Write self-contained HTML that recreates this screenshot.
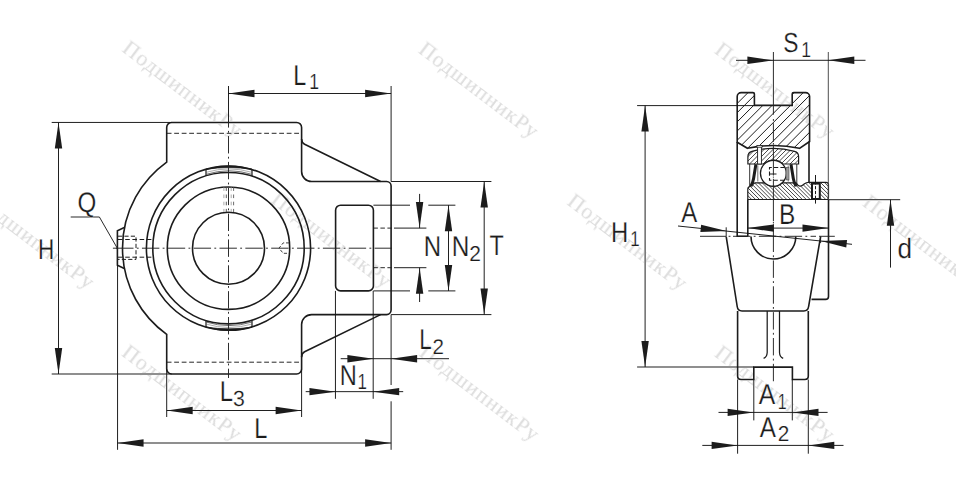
<!DOCTYPE html>
<html lang="ru"><head><meta charset="utf-8"><title>Bearing unit drawing</title>
<style>
html,body{margin:0;padding:0;background:#fff;}
body{width:956px;height:492px;overflow:hidden;font-family:"Liberation Sans",sans-serif;}
svg{display:block;}
svg text{font-family:"Liberation Sans",sans-serif;text-rendering:geometricPrecision;}
</style></head><body>
<svg width="956" height="492" viewBox="0 0 956 492">
<rect width="956" height="492" fill="#fff"/>
<path d="M301.6,141.5 V127.45 A5,5 0 0 0 296.6,122.45 H171.7 A5,5 0 0 0 166.7,127.45 V162.08 A106.0,106.0 0 0 0 166.7,334.32 V369.0 A5,5 0 0 0 171.7,374.0 H296.6 A5,5 0 0 0 301.6,369.0 V354.6 M301.6,141.5 V171.5 A10,10 0 0 0 311.6,181.5 H386.6 A4.5,4.5 0 0 1 391.1,186.0 V310.1 A4.5,4.5 0 0 1 386.6,314.6 H311.6 A10,10 0 0 0 301.6,324.6 V354.6" fill="none" stroke="#1c1c1c" stroke-width="1.6"/>
<path d="M301.6,139.0 Q301.8,142.9 304.6,144.3 L380.6,181.5" fill="none" stroke="#1c1c1c" stroke-width="1.6"/>
<path d="M301.6,357.1 Q301.8,353.20000000000005 304.6,351.8 L380.6,314.6" fill="none" stroke="#1c1c1c" stroke-width="1.6"/>
<circle cx="228.5" cy="248.2" r="82.1" fill="none" stroke="#1c1c1c" stroke-width="1.6"/>
<circle cx="228.5" cy="248.2" r="75.7" fill="none" stroke="#1c1c1c" stroke-width="1.6"/>
<circle cx="228.5" cy="248.2" r="61.2" fill="none" stroke="#1c1c1c" stroke-width="1.6"/>
<circle cx="228.5" cy="248.2" r="36.0" fill="none" stroke="#1c1c1c" stroke-width="1.6"/>
<path d="M206.0,169.24 A82.1,82.1 0 0 1 252.0,169.24 A160,160 0 0 0 206.0,169.24 Z" fill="#1c1c1c" stroke="#1c1c1c" stroke-width="0.8"/>
<path d="M206.4,172.26 A79.2,79.2 0 0 1 251.6,172.26" fill="none" stroke="#999" stroke-width="0.8"/>
<path d="M206.4,174.25 A77.3,77.3 0 0 1 251.6,174.25" fill="none" stroke="#333" stroke-width="0.7"/>
<line x1="206.0" y1="169.24" x2="206.0" y2="175.92" stroke="#1c1c1c" stroke-width="1.2"/>
<line x1="252.0" y1="169.24" x2="252.0" y2="175.92" stroke="#1c1c1c" stroke-width="1.2"/>
<path d="M206.0,327.16 A82.1,82.1 0 0 0 252.0,327.16 A160,160 0 0 1 206.0,327.16 Z" fill="#1c1c1c" stroke="#1c1c1c" stroke-width="0.8"/>
<path d="M206.4,324.14 A79.2,79.2 0 0 0 251.6,324.14" fill="none" stroke="#999" stroke-width="0.8"/>
<path d="M206.4,322.15 A77.3,77.3 0 0 0 251.6,322.15" fill="none" stroke="#333" stroke-width="0.7"/>
<line x1="206.0" y1="327.16" x2="206.0" y2="320.48" stroke="#1c1c1c" stroke-width="1.2"/>
<line x1="252.0" y1="327.16" x2="252.0" y2="320.48" stroke="#1c1c1c" stroke-width="1.2"/>
<path d="M124.8,227.2 L117.4,230.7 V265.3 L124.8,268.8" fill="none" stroke="#1c1c1c" stroke-width="1.6"/>
<rect x="335.6" y="205.2" width="37.8" height="85.7" rx="5" ry="5" fill="none" stroke="#1c1c1c" stroke-width="1.6"/>
<line x1="166.7" y1="133.3" x2="301.6" y2="133.3" stroke="#1c1c1c" stroke-width="0.95" stroke-dasharray="4.8,2.7"/>
<line x1="166.7" y1="362.2" x2="301.6" y2="362.2" stroke="#1c1c1c" stroke-width="0.95" stroke-dasharray="4.8,2.7"/>
<path d="M118,236.2 H136 V259.4 H118" fill="none" stroke="#1c1c1c" stroke-width="1.0" stroke-dasharray="4.2,2.2"/>
<path d="M118,239.5 H153.4 M118,257.2 H153.4" fill="none" stroke="#1c1c1c" stroke-width="1.0" stroke-dasharray="4.6,2.6"/>
<line x1="223.9" y1="187.3" x2="223.9" y2="212" stroke="#a0a0a0" stroke-width="0.9" stroke-dasharray="3.6,3.6"/>
<line x1="226.3" y1="187.3" x2="226.3" y2="212" stroke="#4a4a4a" stroke-width="0.9" stroke-dasharray="3.6,3.6"/>
<line x1="231.2" y1="187.3" x2="231.2" y2="212" stroke="#a0a0a0" stroke-width="0.9" stroke-dasharray="3.6,3.6"/>
<line x1="233.6" y1="187.3" x2="233.6" y2="212" stroke="#5a5a5a" stroke-width="0.9" stroke-dasharray="3.6,3.6"/>
<path d="M289.2,242.9 H283.2 L279.0,248.2 L283.2,253.3 H289.2" fill="none" stroke="#2a2a2a" stroke-width="0.9" stroke-dasharray="3.2,1.8"/>
<line x1="228.5" y1="122" x2="228.5" y2="378" stroke="#222" stroke-width="0.95" stroke-dasharray="17.4,3.3,1.85,3.3" stroke-dashoffset="11.8"/>
<line x1="112.9" y1="248.2" x2="117" y2="248.2" stroke="#222" stroke-width="0.95"/>
<line x1="113.3" y1="248.2" x2="395.1" y2="248.2" stroke="#222" stroke-width="0.95" stroke-dasharray="17.4,3.3,1.85,3.3" stroke-dashoffset="23.05"/>
<line x1="51.7" y1="122.45" x2="171.7" y2="122.45" stroke="#141414" stroke-width="0.95"/>
<line x1="51.7" y1="374.0" x2="171.7" y2="374.0" stroke="#141414" stroke-width="0.95"/>
<line x1="58.5" y1="122.45" x2="58.5" y2="374.0" stroke="#141414" stroke-width="0.95"/>
<polygon points="58.50,122.45 62.20,148.45 54.80,148.45" fill="#1c1c1c"/>
<polygon points="58.50,374.00 54.80,348.00 62.20,348.00" fill="#1c1c1c"/>
<line x1="228.5" y1="86" x2="228.5" y2="122" stroke="#141414" stroke-width="0.95"/>
<line x1="391.1" y1="86" x2="391.1" y2="181.5" stroke="#141414" stroke-width="0.95"/>
<line x1="228.5" y1="93.5" x2="391.1" y2="93.5" stroke="#141414" stroke-width="0.95"/>
<polygon points="228.50,93.50 254.50,89.80 254.50,97.20" fill="#1c1c1c"/>
<polygon points="391.10,93.50 365.10,97.20 365.10,89.80" fill="#1c1c1c"/>
<line x1="166.7" y1="369.0" x2="166.7" y2="417" stroke="#141414" stroke-width="0.95"/>
<line x1="301.6" y1="369.0" x2="301.6" y2="417" stroke="#141414" stroke-width="0.95"/>
<line x1="166.7" y1="410.5" x2="301.6" y2="410.5" stroke="#141414" stroke-width="0.95"/>
<polygon points="166.70,410.50 192.70,406.80 192.70,414.20" fill="#1c1c1c"/>
<polygon points="301.60,410.50 275.60,414.20 275.60,406.80" fill="#1c1c1c"/>
<line x1="117.55" y1="265.3" x2="117.55" y2="449.8" stroke="#141414" stroke-width="0.95"/>
<line x1="391.1" y1="314.6" x2="391.1" y2="385" stroke="#141414" stroke-width="0.95"/>
<line x1="391.1" y1="401.3" x2="391.1" y2="449.8" stroke="#141414" stroke-width="0.95"/>
<line x1="117.55" y1="443" x2="391.1" y2="443" stroke="#141414" stroke-width="0.95"/>
<polygon points="117.55,443.00 143.55,439.30 143.55,446.70" fill="#1c1c1c"/>
<polygon points="391.10,443.00 365.10,446.70 365.10,439.30" fill="#1c1c1c"/>
<line x1="335.45" y1="290.9" x2="335.45" y2="398.8" stroke="#141414" stroke-width="0.95"/>
<line x1="373.2" y1="290.9" x2="373.2" y2="398.8" stroke="#141414" stroke-width="0.95"/>
<line x1="305.7" y1="391.65" x2="403.2" y2="391.65" stroke="#141414" stroke-width="0.95"/>
<polygon points="335.45,391.65 309.45,395.35 309.45,387.95" fill="#1c1c1c"/>
<polygon points="373.20,391.65 399.20,387.95 399.20,395.35" fill="#1c1c1c"/>
<line x1="340.7" y1="358.7" x2="449" y2="358.7" stroke="#141414" stroke-width="0.95"/>
<polygon points="373.40,358.70 347.40,362.40 347.40,355.00" fill="#1c1c1c"/>
<polygon points="391.10,358.70 417.10,355.00 417.10,362.40" fill="#1c1c1c"/>
<line x1="373.4" y1="228.1" x2="394" y2="228.1" stroke="#1e1e1e" stroke-width="0.95" stroke-dasharray="4.5,2.5"/>
<line x1="394" y1="228.1" x2="426.4" y2="228.1" stroke="#141414" stroke-width="0.95"/>
<line x1="373.4" y1="267.7" x2="394" y2="267.7" stroke="#1e1e1e" stroke-width="0.95" stroke-dasharray="4.5,2.5"/>
<line x1="394" y1="267.7" x2="426.4" y2="267.7" stroke="#141414" stroke-width="0.95"/>
<line x1="419.6" y1="193.9" x2="419.6" y2="228.1" stroke="#141414" stroke-width="0.95"/>
<line x1="419.6" y1="267.7" x2="419.6" y2="302" stroke="#141414" stroke-width="0.95"/>
<polygon points="419.60,228.10 415.90,202.10 423.30,202.10" fill="#1c1c1c"/>
<polygon points="419.60,267.70 423.30,293.70 415.90,293.70" fill="#1c1c1c"/>
<line x1="373.4" y1="205.2" x2="410.0" y2="205.2" stroke="#141414" stroke-width="0.95"/>
<line x1="428.3" y1="205.2" x2="455.4" y2="205.2" stroke="#141414" stroke-width="0.95"/>
<line x1="373.4" y1="290.9" x2="410.0" y2="290.9" stroke="#141414" stroke-width="0.95"/>
<line x1="428.3" y1="290.9" x2="455.4" y2="290.9" stroke="#141414" stroke-width="0.95"/>
<line x1="448.5" y1="205.2" x2="448.5" y2="290.9" stroke="#141414" stroke-width="0.95"/>
<polygon points="448.50,205.20 452.20,231.20 444.80,231.20" fill="#1c1c1c"/>
<polygon points="448.50,290.90 444.80,264.90 452.20,264.90" fill="#1c1c1c"/>
<line x1="391.1" y1="181.5" x2="491.4" y2="181.5" stroke="#141414" stroke-width="0.95"/>
<line x1="391.1" y1="314.6" x2="491.4" y2="314.6" stroke="#141414" stroke-width="0.95"/>
<line x1="484.2" y1="181.5" x2="484.2" y2="314.6" stroke="#141414" stroke-width="0.95"/>
<polygon points="484.20,181.50 487.90,207.50 480.50,207.50" fill="#1c1c1c"/>
<polygon points="484.20,314.60 480.50,288.60 487.90,288.60" fill="#1c1c1c"/>
<path d="M70.7,217 H99.4 L117,247.7" fill="none" stroke="#1e1e1e" stroke-width="0.95"/>
<text transform="translate(37.95,259.00) scale(0.8676,1.1069)" font-size="26" fill="#1c1c1c" stroke="#fff" stroke-width="0.203">H</text>
<text transform="translate(77.56,211.92) scale(0.9297,1.0865)" font-size="26" fill="#1c1c1c" stroke="#fff" stroke-width="0.198">Q</text>
<text transform="translate(293.18,85.00) scale(0.8985,1.1069)" font-size="26" fill="#1c1c1c" stroke="#fff" stroke-width="0.199">L</text>
<text transform="translate(309.26,89.00) scale(0.6780,0.8442)" font-size="26" fill="#1c1c1c" stroke="#fff" stroke-width="0.263">1</text>
<text transform="translate(219.75,401.00) scale(0.9159,1.1069)" font-size="26" fill="#1c1c1c" stroke="#fff" stroke-width="0.198">L</text>
<text transform="translate(232.99,405.59) scale(0.8193,0.8420)" font-size="26" fill="#1c1c1c" stroke="#fff" stroke-width="0.241">3</text>
<text transform="translate(254.37,438.00) scale(0.9072,1.1013)" font-size="26" fill="#1c1c1c" stroke="#fff" stroke-width="0.199">L</text>
<text transform="translate(339.76,385.00) scale(0.9089,1.1013)" font-size="26" fill="#1c1c1c" stroke="#fff" stroke-width="0.199">N</text>
<text transform="translate(357.51,389.00) scale(0.6512,0.8442)" font-size="26" fill="#1c1c1c" stroke="#fff" stroke-width="0.267">1</text>
<text transform="translate(419.36,349.00) scale(0.8636,1.1013)" font-size="26" fill="#1c1c1c" stroke="#fff" stroke-width="0.204">L</text>
<text transform="translate(432.46,354.00) scale(0.7936,0.8152)" font-size="26" fill="#1c1c1c" stroke="#fff" stroke-width="0.249">2</text>
<text transform="translate(423.63,256.00) scale(0.9226,1.1013)" font-size="26" fill="#1c1c1c" stroke="#fff" stroke-width="0.198">N</text>
<text transform="translate(451.70,256.00) scale(0.9364,1.1013)" font-size="26" fill="#1c1c1c" stroke="#fff" stroke-width="0.196">N</text>
<text transform="translate(469.14,261.00) scale(0.8105,0.8263)" font-size="26" fill="#1c1c1c" stroke="#fff" stroke-width="0.244">2</text>
<text transform="translate(489.58,255.00) scale(0.8979,1.0901)" font-size="26" fill="#1c1c1c" stroke="#fff" stroke-width="0.201">T</text>
<clipPath id="c1"><path d="M737.2,96.6 A4,4 0 0 1 741.2,92.6 H752.9 Q754.4,92.6 754.4,94.1 V105.4 H792.2 V94.1 Q792.2,92.6 793.7,92.6 H805.6 A4,4 0 0 1 809.6,96.6 V141.5 L799.5,148.3 Q773.5,142.6 747.5,148.3 L737.2,142.2 Z"/></clipPath>
<path d="M737.2,96.6 A4,4 0 0 1 741.2,92.6 H752.9 Q754.4,92.6 754.4,94.1 V105.4 H792.2 V94.1 Q792.2,92.6 793.7,92.6 H805.6 A4,4 0 0 1 809.6,96.6 V141.5 L799.5,148.3 Q773.5,142.6 747.5,148.3 L737.2,142.2 Z" fill="#fff" stroke="none"/>
<path clip-path="url(#c1)" d="M741.45,90L679.45,152M750.65,90L688.65,152M759.85,90L697.85,152M769.05,90L707.05,152M778.25,90L716.25,152M787.45,90L725.45,152M796.65,90L734.65,152M805.85,90L743.85,152M815.05,90L753.05,152M824.25,90L762.25,152M833.45,90L771.45,152M842.65,90L780.65,152M851.85,90L789.85,152M861.05,90L799.05,152M870.25,90L808.25,152" stroke="#1c1c1c" stroke-width="1.0" fill="none"/>
<path d="M737.2,96.6 A4,4 0 0 1 741.2,92.6 H752.9 Q754.4,92.6 754.4,94.1 V105.4 H792.2 V94.1 Q792.2,92.6 793.7,92.6 H805.6 A4,4 0 0 1 809.6,96.6 V141.5 L799.5,148.3 Q773.5,142.6 747.5,148.3 L737.2,142.2 Z" fill="none" stroke="#1c1c1c" stroke-width="1.6"/>
<path d="M737.2,142 V236.3 H747.8" fill="none" stroke="#1c1c1c" stroke-width="1.6"/>
<line x1="809.0" y1="141.5" x2="809.0" y2="183" stroke="#1c1c1c" stroke-width="1.6"/>
<clipPath id="c2"><path d="M747.9,164.0 V156.5 Q747.9,152.4 752.0,151.3 Q773.3,145.3 794.6,151.3 Q798.6,152.4 798.6,156.5 V164.0 H782.7 A12.95,12.95 0 0 0 764.1,164.0 Z"/></clipPath>
<path d="M747.9,164.0 V156.5 Q747.9,152.4 752.0,151.3 Q773.3,145.3 794.6,151.3 Q798.6,152.4 798.6,156.5 V164.0 H782.7 A12.95,12.95 0 0 0 764.1,164.0 Z" fill="#fff" stroke="none"/>
<path clip-path="url(#c2)" d="M748.00,143L725.00,166M752.50,143L729.50,166M757.00,143L734.00,166M761.50,143L738.50,166M766.00,143L743.00,166M770.50,143L747.50,166M775.00,143L752.00,166M779.50,143L756.50,166M784.00,143L761.00,166M788.50,143L765.50,166M793.00,143L770.00,166M797.50,143L774.50,166M802.00,143L779.00,166M806.50,143L783.50,166M811.00,143L788.00,166M815.50,143L792.50,166M820.00,143L797.00,166" stroke="#1c1c1c" stroke-width="0.8" fill="none"/>
<path d="M747.9,164.0 V156.5 Q747.9,152.4 752.0,151.3 Q773.3,145.3 794.6,151.3 Q798.6,152.4 798.6,156.5 V164.0 H782.7 A12.95,12.95 0 0 0 764.1,164.0 Z" fill="none" stroke="#1c1c1c" stroke-width="1.2"/>
<rect x="757.6" y="146.4" width="3.8" height="17.6" fill="#fff" stroke="#1c1c1c" stroke-width="0.9"/>
<rect x="756.9" y="145.4" width="5.2" height="1.8" fill="#fff" stroke="#1c1c1c" stroke-width="0.8"/>
<clipPath id="c3"><path d="M747.8,199.5 V188.8 Q747.8,187.2 749.5,186.6 L755.0,182.8 H764.8 A12.95,12.95 0 0 0 782.0,182.8 H796.0 Q798.2,185.8 799.8,186.2 Q801.6,186.4 804.5,183.8 Q806.3,182.3 808.6,182.3 H826.0 Q828.5,182.3 828.5,184.8 V197.4 Q828.5,199.5 826.5,199.5 Z"/></clipPath>
<path d="M747.8,199.5 V188.8 Q747.8,187.2 749.5,186.6 L755.0,182.8 H764.8 A12.95,12.95 0 0 0 782.0,182.8 H796.0 Q798.2,185.8 799.8,186.2 Q801.6,186.4 804.5,183.8 Q806.3,182.3 808.6,182.3 H826.0 Q828.5,182.3 828.5,184.8 V197.4 Q828.5,199.5 826.5,199.5 Z" fill="#fff" stroke="none"/>
<path clip-path="url(#c3)" d="M729.30,181L749.30,201M733.20,181L753.20,201M737.10,181L757.10,201M741.00,181L761.00,201M744.90,181L764.90,201M748.80,181L768.80,201M752.70,181L772.70,201M756.60,181L776.60,201M760.50,181L780.50,201M764.40,181L784.40,201M768.30,181L788.30,201M772.20,181L792.20,201M776.10,181L796.10,201M780.00,181L800.00,201M783.90,181L803.90,201M787.80,181L807.80,201M791.70,181L811.70,201M795.60,181L815.60,201M799.50,181L819.50,201M803.40,181L823.40,201M807.30,181L827.30,201M811.20,181L831.20,201M815.10,181L835.10,201M819.00,181L839.00,201M822.90,181L842.90,201M826.80,181L846.80,201" stroke="#1c1c1c" stroke-width="0.8" fill="none"/>
<path d="M747.8,199.5 V188.8 Q747.8,187.2 749.5,186.6 L755.0,182.8 H764.8 A12.95,12.95 0 0 0 782.0,182.8 H796.0 Q798.2,185.8 799.8,186.2 Q801.6,186.4 804.5,183.8 Q806.3,182.3 808.6,182.3 H826.0 Q828.5,182.3 828.5,184.8 V197.4 Q828.5,199.5 826.5,199.5 Z" fill="none" stroke="#1c1c1c" stroke-width="1.2"/>
<rect x="812.0" y="183.6" width="7.8" height="15.4" fill="#fff" stroke="#1c1c1c" stroke-width="2.0"/>
<line x1="815.5" y1="175" x2="815.5" y2="203.6" stroke="#1c1c1c" stroke-width="1.0" stroke-dasharray="9.5,1.6,3.2,1.6,3.2,1.6,20"/>
<circle cx="773.4" cy="173.3" r="12.95" fill="#fff" stroke="#1c1c1c" stroke-width="1.3"/>
<line x1="749.7" y1="164.0" x2="749.7" y2="186.4" stroke="#1c1c1c" stroke-width="0.9"/>
<line x1="796.8" y1="164.0" x2="796.8" y2="186.4" stroke="#1c1c1c" stroke-width="0.9"/>
<line x1="757.8" y1="165.5" x2="757.8" y2="181.5" stroke="#333" stroke-width="0.7"/>
<line x1="788.2" y1="165.5" x2="788.2" y2="181.5" stroke="#333" stroke-width="0.7"/>
<path d="M755.9,164.3 L753.6,178.5 Q752.9,182.5 750.9,186.2" fill="none" stroke="#1c1c1c" stroke-width="3.0"/>
<path d="M791.0,164.3 L793.3,178.5 Q794.0,182.5 796.0,186.2" fill="none" stroke="#1c1c1c" stroke-width="3.0"/>
<rect x="786.0" y="167.3" width="3.0" height="12.6" fill="#9c9c9c" stroke="#4a4a4a" stroke-width="0.6"/>
<path d="M784.6,167.5 H769.5 V180.3 H784.6" fill="none" stroke="#1c1c1c" stroke-width="1.1" stroke-dasharray="4.2,2.2"/>
<line x1="769.5" y1="174.0" x2="776.5" y2="174.0" stroke="#1c1c1c" stroke-width="1.0"/>
<line x1="773.4" y1="52" x2="773.4" y2="114.7" stroke="#222" stroke-width="0.95"/>
<line x1="773.4" y1="119" x2="773.4" y2="120.9" stroke="#222" stroke-width="0.95"/>
<line x1="773.4" y1="123.2" x2="773.4" y2="141.8" stroke="#222" stroke-width="0.95"/>
<line x1="773.4" y1="143.0" x2="773.4" y2="144.6" stroke="#222" stroke-width="0.95"/>
<line x1="773.4" y1="146.0" x2="773.4" y2="175.5" stroke="#222" stroke-width="0.95"/>
<line x1="773.4" y1="176.6" x2="773.4" y2="177.7" stroke="#222" stroke-width="0.95"/>
<line x1="773.4" y1="178.8" x2="773.4" y2="221.2" stroke="#222" stroke-width="0.95"/>
<line x1="773.4" y1="222.0" x2="773.4" y2="223.4" stroke="#222" stroke-width="0.95"/>
<line x1="773.4" y1="224.2" x2="773.4" y2="252.0" stroke="#222" stroke-width="0.95"/>
<line x1="773.4" y1="255.3" x2="773.4" y2="384.5" stroke="#222" stroke-width="0.95" stroke-dasharray="1.85,3.3,17.4,3.3"/>
<line x1="747.8" y1="199.5" x2="747.8" y2="236.3" stroke="#1c1c1c" stroke-width="1.6"/>
<path d="M828.5,199.5 V296.4 Q828.5,299.4 825.5,299.4 H811.5" fill="none" stroke="#1c1c1c" stroke-width="1.6"/>
<line x1="828.3" y1="52" x2="828.3" y2="199.6" stroke="#444" stroke-width="0.95"/>
<path d="M726.2,236.6 L737.2,306.5 Q737.8,311 742,311 H803.8 Q808.0,311 808.6,306.5 L820.6,236.6" fill="none" stroke="#1c1c1c" stroke-width="1.6"/>
<path d="M751.0,236.6 A22.4,22.4 0 0 0 795.8,236.6" fill="none" stroke="#1c1c1c" stroke-width="1.6"/>
<path d="M737.6,311 V376.0 Q737.6,379.5 741.1,379.5 H753.8 V367.1 H792.4 V379.5 H804.8 Q808.3,379.5 808.3,376.0 V311" fill="none" stroke="#1c1c1c" stroke-width="1.6"/>
<path d="M767.2,311 V352.5 Q767.0,357 763.6,358.4" fill="none" stroke="#1c1c1c" stroke-width="1.25"/>
<path d="M779.5,311 V352.5 Q779.7,357 783.2,358.4" fill="none" stroke="#1c1c1c" stroke-width="1.25"/>
<line x1="700" y1="236.3" x2="733" y2="236.3" stroke="#222" stroke-width="0.95" stroke-dasharray="26,2.6,1.85,2.6"/>
<line x1="733" y1="236.3" x2="816" y2="236.3" stroke="#222" stroke-width="0.95" stroke-dasharray="17.4,3.3,1.85,3.3"/>
<line x1="819" y1="236.3" x2="834.8" y2="236.3" stroke="#222" stroke-width="0.95"/>
<line x1="736" y1="60.3" x2="865.5" y2="60.3" stroke="#141414" stroke-width="0.95"/>
<polygon points="773.40,60.30 747.40,64.00 747.40,56.60" fill="#1c1c1c"/>
<polygon points="828.30,60.30 854.30,56.60 854.30,64.00" fill="#1c1c1c"/>
<line x1="637.1" y1="105.6" x2="754.4" y2="105.6" stroke="#141414" stroke-width="0.95"/>
<line x1="637.1" y1="367.0" x2="753.8" y2="367.0" stroke="#141414" stroke-width="0.95"/>
<line x1="645.1" y1="105.6" x2="645.1" y2="367.0" stroke="#141414" stroke-width="0.95"/>
<polygon points="645.10,105.60 648.80,131.60 641.40,131.60" fill="#1c1c1c"/>
<polygon points="645.10,367.00 641.40,341.00 648.80,341.00" fill="#1c1c1c"/>
<line x1="828.5" y1="199.7" x2="900.2" y2="199.7" stroke="#141414" stroke-width="0.95"/>
<line x1="890.5" y1="199.7" x2="890.5" y2="267.6" stroke="#141414" stroke-width="0.95"/>
<polygon points="890.50,199.70 894.20,225.70 886.80,225.70" fill="#1c1c1c"/>
<line x1="747.8" y1="228.1" x2="828.5" y2="228.1" stroke="#141414" stroke-width="0.95"/>
<polygon points="747.80,228.10 773.80,224.40 773.80,231.80" fill="#1c1c1c"/>
<polygon points="828.50,228.10 802.50,231.80 802.50,224.40" fill="#1c1c1c"/>
<line x1="678.0" y1="226.0" x2="852.0" y2="244.3" stroke="#141414" stroke-width="0.95"/>
<polygon points="726.60,231.11 700.36,232.07 701.13,224.71" fill="#1c1c1c"/>
<polygon points="820.80,241.02 847.04,240.06 846.27,247.42" fill="#1c1c1c"/>
<line x1="726.2" y1="227.3" x2="726.2" y2="236.6" stroke="#1c1c1c" stroke-width="0.95"/>
<line x1="820.6" y1="236.6" x2="820.6" y2="243" stroke="#1c1c1c" stroke-width="0.95"/>
<line x1="753.8" y1="379.5" x2="753.8" y2="420.4" stroke="#141414" stroke-width="0.95"/>
<line x1="792.3" y1="379.5" x2="792.3" y2="420.4" stroke="#141414" stroke-width="0.95"/>
<line x1="718.5" y1="412.4" x2="827.6" y2="412.4" stroke="#141414" stroke-width="0.95"/>
<polygon points="753.60,412.40 727.60,416.10 727.60,408.70" fill="#1c1c1c"/>
<polygon points="792.50,412.40 818.50,408.70 818.50,416.10" fill="#1c1c1c"/>
<line x1="737.6" y1="379.5" x2="737.6" y2="453.7" stroke="#141414" stroke-width="0.95"/>
<line x1="808.3" y1="379.5" x2="808.3" y2="453.7" stroke="#141414" stroke-width="0.95"/>
<line x1="702.3" y1="445.4" x2="843.5" y2="445.4" stroke="#141414" stroke-width="0.95"/>
<polygon points="737.60,445.40 711.60,449.10 711.60,441.70" fill="#1c1c1c"/>
<polygon points="808.30,445.40 834.30,441.70 834.30,449.10" fill="#1c1c1c"/>
<text transform="translate(783.17,51.53) scale(0.8752,1.0593)" font-size="26" fill="#1c1c1c" stroke="#fff" stroke-width="0.207">S</text>
<text transform="translate(801.36,57.00) scale(0.6780,0.8330)" font-size="26" fill="#1c1c1c" stroke="#fff" stroke-width="0.265">1</text>
<text transform="translate(611.09,242.00) scale(0.9192,1.1013)" font-size="26" fill="#1c1c1c" stroke="#fff" stroke-width="0.198">H</text>
<text transform="translate(630.21,246.00) scale(0.6512,0.8274)" font-size="26" fill="#1c1c1c" stroke="#fff" stroke-width="0.271">1</text>
<text transform="translate(681.25,222.00) scale(0.9223,1.0901)" font-size="26" fill="#1c1c1c" stroke="#fff" stroke-width="0.199">A</text>
<text transform="translate(779.00,224.00) scale(0.9394,1.1013)" font-size="26" fill="#1c1c1c" stroke="#fff" stroke-width="0.196">B</text>
<text transform="translate(897.40,257.93) scale(1.0092,1.0736)" font-size="26" fill="#1c1c1c" stroke="#fff" stroke-width="0.192">d</text>
<text transform="translate(758.85,404.00) scale(0.9513,1.1013)" font-size="26" fill="#1c1c1c" stroke="#fff" stroke-width="0.195">A</text>
<text transform="translate(777.68,409.00) scale(0.6155,0.8386)" font-size="26" fill="#1c1c1c" stroke="#fff" stroke-width="0.275">1</text>
<text transform="translate(759.85,437.00) scale(0.9339,1.1013)" font-size="26" fill="#1c1c1c" stroke="#fff" stroke-width="0.197">A</text>
<text transform="translate(777.85,441.00) scale(0.8020,0.8263)" font-size="26" fill="#1c1c1c" stroke="#fff" stroke-width="0.246">2</text>
<g style="mix-blend-mode:darken">
<text transform="translate(121.0,50.8) rotate(37.2)" style="font-family:'Liberation Serif',serif" font-size="21.8" letter-spacing="0.95" fill="#dcdcdc">ПодшипникРу</text>
<text transform="translate(417.3,52.0) rotate(37.2)" style="font-family:'Liberation Serif',serif" font-size="21.8" letter-spacing="0.95" fill="#dcdcdc">ПодшипникРу</text>
<text transform="translate(713.4,52.4) rotate(37.2)" style="font-family:'Liberation Serif',serif" font-size="21.8" letter-spacing="0.95" fill="#dcdcdc">ПодшипникРу</text>
<text transform="translate(-26.8,202.9) rotate(37.2)" style="font-family:'Liberation Serif',serif" font-size="21.8" letter-spacing="0.95" fill="#dcdcdc">ПодшипникРу</text>
<text transform="translate(270.0,201.9) rotate(37.2)" style="font-family:'Liberation Serif',serif" font-size="21.8" letter-spacing="0.95" fill="#dcdcdc">ПодшипникРу</text>
<text transform="translate(566.0,203.9) rotate(37.2)" style="font-family:'Liberation Serif',serif" font-size="21.8" letter-spacing="0.95" fill="#dcdcdc">ПодшипникРу</text>
<text transform="translate(861.4,205.0) rotate(37.2)" style="font-family:'Liberation Serif',serif" font-size="21.8" letter-spacing="0.95" fill="#dcdcdc">ПодшипникРу</text>
<text transform="translate(120.5,354.9) rotate(37.2)" style="font-family:'Liberation Serif',serif" font-size="21.8" letter-spacing="0.95" fill="#dcdcdc">ПодшипникРу</text>
<text transform="translate(418.0,355.0) rotate(37.2)" style="font-family:'Liberation Serif',serif" font-size="21.8" letter-spacing="0.95" fill="#dcdcdc">ПодшипникРу</text>
<text transform="translate(713.4,355.6) rotate(37.2)" style="font-family:'Liberation Serif',serif" font-size="21.8" letter-spacing="0.95" fill="#dcdcdc">ПодшипникРу</text>
</g>
</svg>
</body></html>
